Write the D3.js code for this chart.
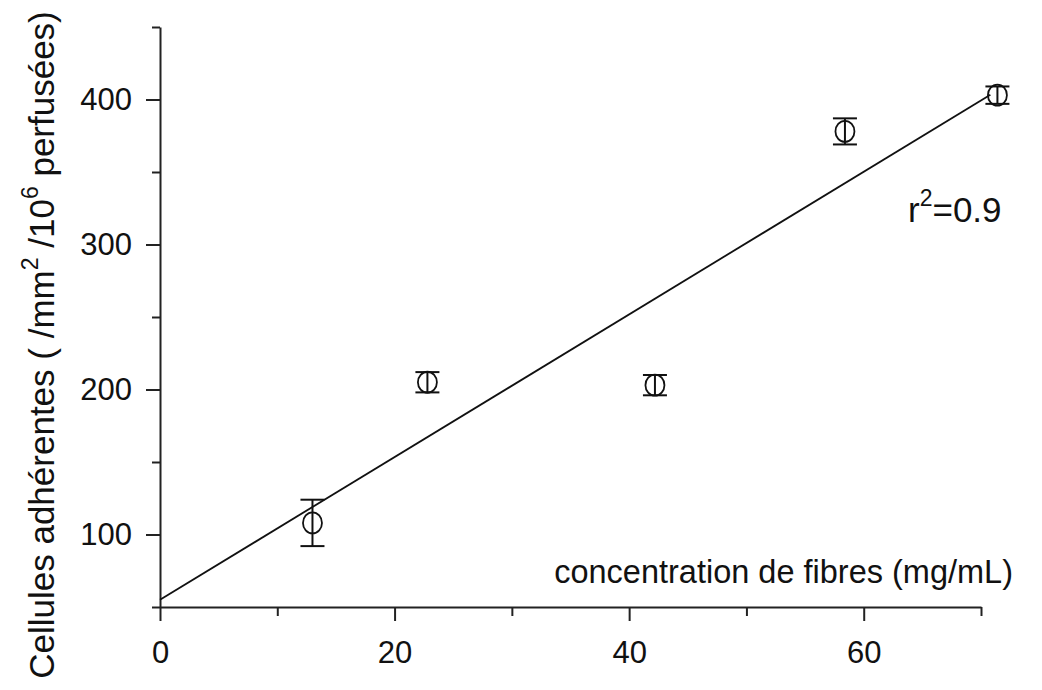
<!DOCTYPE html>
<html>
<head>
<meta charset="utf-8">
<script src="https://cdn.jsdelivr.net/npm/d3@7"></script>
<style>
  body { margin: 0; background: #fff; }
  svg text { font-family: "Liberation Sans", Arial, sans-serif; fill: #111; }
  .axis path, .axis line { stroke: #222; stroke-width: 2; }
</style>
</head>
<body>
<svg id="chart" width="1042" height="690"></svg>
<script>
// data
const concentration = [13.0, 22.8, 42.2, 58.4, 71.4];
const cellules = [108, 205, 203, 378, 403];
const erreur = [16, 7, 7, 9, 6];

// linear fit drawn on the plot
const fitIntercept = 55;
const fitSlope = 4.92;
const fitRange = [0, 70.8];

const xMajor = [0, 20, 40, 60];
const xMinor = [10, 30, 50, 70];
const yMajor = [100, 200, 300, 400];
const yMinor = [50, 150, 250, 350, 450];

const svg = d3.select('#chart');

const x = d3.scaleLinear().domain([0, 70]).range([160, 981]);
const y = d3.scaleLinear().domain([50, 450]).range([607, 27]);

// x axis
svg.append('g')
  .attr('class', 'axis')
  .attr('transform', 'translate(0,607)')
  .call(d3.axisBottom(x).tickValues(xMinor).tickSize(9).tickSizeOuter(0).tickFormat(''));

svg.append('g')
  .attr('class', 'axis')
  .attr('transform', 'translate(0,607)')
  .call(d3.axisBottom(x).tickValues(xMajor).tickSize(14).tickSizeOuter(0).tickPadding(20))
  .call(g => g.select('.domain').remove())
  .selectAll('text')
  .style('font-size', '31px')
  .attr('fill', '#111');

// y axis
svg.append('g')
  .attr('class', 'axis')
  .attr('transform', 'translate(160,0)')
  .call(d3.axisLeft(y).tickValues(yMinor).tickSize(8).tickSizeOuter(0).tickFormat(''));

svg.append('g')
  .attr('class', 'axis')
  .attr('transform', 'translate(160,0)')
  .call(d3.axisLeft(y).tickValues(yMajor).tickSize(14).tickSizeOuter(0).tickPadding(14))
  .call(g => g.select('.domain').remove())
  .selectAll('text')
  .style('font-size', '31px')
  .attr('fill', '#111');

// regression line
svg.append('line')
  .attr('x1', x(fitRange[0]))
  .attr('y1', y(fitIntercept + fitSlope * fitRange[0]))
  .attr('x2', x(fitRange[1]))
  .attr('y2', y(fitIntercept + fitSlope * fitRange[1]))
  .attr('stroke', '#111')
  .attr('stroke-width', 1.8);

// points with error bars
const pts = concentration.map((c, i) => ({x: c, y: cellules[i], e: erreur[i]}));

const grp = svg.append('g').selectAll('g')
  .data(pts)
  .join('g');

grp.append('line')
  .attr('x1', d => x(d.x)).attr('x2', d => x(d.x))
  .attr('y1', d => y(d.y + d.e)).attr('y2', d => y(d.y - d.e))
  .attr('stroke', '#111').attr('stroke-width', 2);

grp.append('line')
  .attr('x1', d => x(d.x) - 12).attr('x2', d => x(d.x) + 12)
  .attr('y1', d => y(d.y + d.e)).attr('y2', d => y(d.y + d.e))
  .attr('stroke', '#111').attr('stroke-width', 2);

grp.append('line')
  .attr('x1', d => x(d.x) - 12).attr('x2', d => x(d.x) + 12)
  .attr('y1', d => y(d.y - d.e)).attr('y2', d => y(d.y - d.e))
  .attr('stroke', '#111').attr('stroke-width', 2);

grp.append('ellipse')
  .attr('cx', d => x(d.x))
  .attr('cy', d => y(d.y))
  .attr('rx', 9.5)
  .attr('ry', 10.5)
  .attr('fill', 'none')
  .attr('stroke', '#111')
  .attr('stroke-width', 1.8);

// r2 note
const r2 = svg.append('text')
  .attr('x', 908)
  .attr('y', 222)
  .style('font-size', '35px');
r2.append('tspan').text('r');
r2.append('tspan').attr('dy', -16).style('font-size', '23px').text('2');
r2.append('tspan').attr('dy', 16).text('=0.9');

// x axis title
svg.append('text')
  .attr('x', 1013)
  .attr('y', 583)
  .attr('text-anchor', 'end')
  .style('font-size', '32.5px')
  .text('concentration de fibres (mg/mL)');

// y axis title
const yt = svg.append('text')
  .attr('transform', 'translate(54,345) rotate(-90)')
  .attr('text-anchor', 'middle')
  .style('font-size', '35px');
yt.append('tspan').text('Cellules adhérentes ( /mm');
yt.append('tspan').attr('dy', -16).style('font-size', '23px').text('2');
yt.append('tspan').attr('dy', 16).text(' /10');
yt.append('tspan').attr('dy', -16).style('font-size', '23px').text('6');
yt.append('tspan').attr('dy', 16).text(' perfusées)');
</script>
</body>
</html>
